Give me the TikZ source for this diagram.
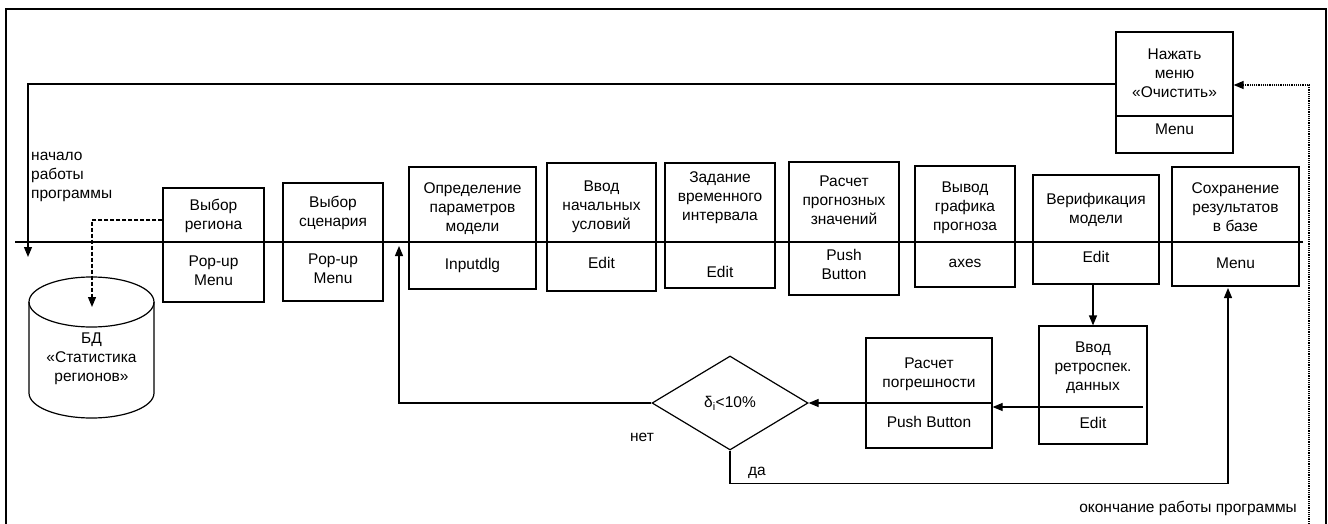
\documentclass[tikz,border=0pt]{standalone}
\usepackage{fontspec}
\setmainfont{Liberation Sans}
\usetikzlibrary{arrows.meta,shapes.geometric,calc}

\tikzset{
  ui/.style={draw, line width=1.2pt, inner sep=0pt},
  txt/.style={align=center, font=\fontsize{15.5}{19}\selectfont, inner sep=0pt},
  ln/.style={line width=1.2pt},
  arr/.style={line width=1.2pt, -{Triangle[length=10pt,width=8pt]}}
}

\begin{document}
\begin{tikzpicture}[x=1pt,y=-1pt]
  %%%%% START %%%%%
  \useasboundingbox (0,0) rectangle (1328,524);
  \draw[line width=2pt] (6,535) -- (6,9) -- (1326,9) -- (1326,535);

  % main line
  \coordinate (mainL) at (15,242);
  \coordinate (mainR) at (1303,242);
  \draw[ln] (mainL) -- (mainR);

  % boxes
  \node[ui, minimum width=101, minimum height=114] (region) at (213.5,245) {};
  \node[ui, minimum width=100, minimum height=118] (scen) at (333,242) {};
  \node[ui, minimum width=127, minimum height=122] (param) at (472.5,228) {};
  \node[ui, minimum width=109, minimum height=128] (init) at (601.5,227) {};
  \node[ui, minimum width=110, minimum height=125] (interval) at (720,225.5) {};
  \node[ui, minimum width=110, minimum height=133] (forecast) at (844,228.5) {};
  \node[ui, minimum width=100, minimum height=121] (graph) at (965,226.5) {};
  \node[ui, minimum width=126, minimum height=109] (verif) at (1096,229.5) {};
  \node[ui, minimum width=127, minimum height=119] (save) at (1235.5,226.5) {};
  \node[ui, minimum width=117, minimum height=121] (clear) at (1174.5,92.5) {};
  \node[ui, minimum width=108, minimum height=118] (retro) at (1093,385) {};
  \node[ui, minimum width=126, minimum height=110] (error) at (929,393) {};
  \node[ui, shape=diamond, minimum width=156, minimum height=94, txt] (dec) at (730,403) {δ\textsubscript{i}<10\%};

  \draw[ln] ($(clear.west)+(0,23.5)$) -- ($(clear.east)+(0,23.5)$);

  % database
  \draw[ln] (91.5,302) ellipse [x radius=62.5, y radius=25];
  \draw[ln] (29,302) -- (29,393) arc [start angle=180, end angle=0, x radius=62.5, y radius=25] -- (154,302);

  % texts
  \node[txt] (regionT) at (213.5,216) {Выбор\\региона};
  \node[txt] (regionB) at (213.5,271) {Pop-up\\Menu};
  \node[txt] (scenT) at (333,213) {Выбор\\сценария};
  \node[txt] (scenB) at (333,269) {Pop-up\\Menu};
  \node[txt] (paramT) at (472.5,209) {Определение\\параметров\\модели};
  \node[txt] (paramB) at (472.5,265) {Inputdlg};
  \node[txt] (initT) at (601.5,207) {Ввод\\начальных\\условий};
  \node[txt] (initB) at (601.5,263) {Edit};
  \node[txt] (intervalT) at (720,198) {Задание\\временного\\интервала};
  \node[txt] (intervalB) at (720,272) {Edit};
  \node[txt] (forecastT) at (844,200) {Расчет\\прогнозных\\значений};
  \node[txt] (forecastB) at (844,264) {Push\\Button};
  \node[txt] (graphT) at (965,208) {Вывод\\графика\\прогноза};
  \node[txt] (graphB) at (965,263) {axes};
  \node[txt] (verifT) at (1096,210) {Верификация\\модели};
  \node[txt] (verifB) at (1096,257) {Edit};
  \node[txt] (saveT) at (1235.5,207) {Сохранение\\результатов\\в базе};
  \node[txt] (saveB) at (1235.5,263) {Menu};
  \node[txt] (clearT) at (1174.5,73) {Нажать\\меню\\«Очистить»};
  \node[txt] (clearB) at (1174.5,129) {Menu};
  \node[txt] (retroT) at (1093,368) {Ввод\\ретроспек.\\данных};
  \node[txt] (retroB) at (1093,423) {Edit};
  \node[txt] (errorT) at (929,374) {Расчет\\погрешности};
  \node[txt] (errorB) at (929,422) {Push Button};
  \node[txt] (dbT) at (91.5,359) {БД\\«Статистика\\регионов»};

  \node[txt, align=left, anchor=west] (startT) at (31,177) {начало\\работы\\программы};
  \node[txt, anchor=east] (finishT) at (1297,508) {окончание работы программы};
  \node[txt] (noT) at (642,437) {нет};
  \node[txt] (yesT) at (757,473) {да};

  % connectors
  \coordinate (startTop) at (28,84);
  \coordinate (startEnd) at (28,257);
  \draw[arr] ($(clear.west)+(0,-8.5)$) -- (startTop) -- (startEnd);

  \coordinate (finish) at (1309,535);
  \draw[arr, densely dotted] (finish) |- ($(clear.east)+(0,-7.5)$);

  \coordinate (dbIn) at (92,307);
  \draw[arr, dash pattern=on 4pt off 2pt] ($(region.west)+(0,-25)$) -| (dbIn);

  \coordinate (loopIn) at (399,246);
  \draw[arr] (dec.west) -| (loopIn);

  \draw[arr] (retro.north |- verif.south) -- (retro.north);

  \coordinate (rdiv) at (1143,407);
  \draw[arr] (rdiv) -- (error.east |- rdiv);
  \draw[arr] (error.east |- dec.east) -- (dec.east);

  \coordinate (saveIn) at (1228,288);
  \draw[arr] (dec.south) -- ++(0,33) -| (saveIn);
  %%%%% END %%%%%
\end{tikzpicture}
\end{document}
